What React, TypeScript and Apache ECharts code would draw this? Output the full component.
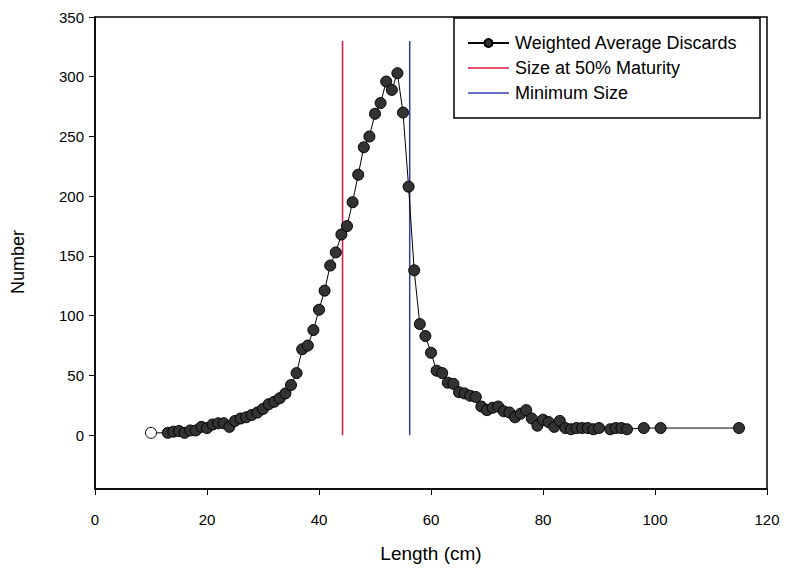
import React, { useEffect, useRef } from "react";
import * as echarts from "echarts";

// Length classes (cm) and weighted average number discarded
const lengths = [
  10, 13, 14, 15, 16, 17, 18, 19, 20, 21, 22, 23, 24, 25, 26, 27, 28, 29, 30,
  31, 32, 33, 34, 35, 36, 37, 38, 39, 40, 41, 42, 43, 44, 45, 46, 47, 48, 49,
  50, 51, 52, 53, 54, 55, 56, 57, 58, 59, 60, 61, 62, 63, 64, 65, 66, 67, 68,
  69, 70, 71, 72, 73, 74, 75, 76, 77, 78, 79, 80, 81, 82, 83, 84, 85, 86, 87,
  88, 89, 90, 92, 93, 94, 95, 98, 101, 115,
];
const discards = [
  2, 2, 3, 3.5, 2, 4, 4, 7, 6, 9, 10, 10, 7, 12, 14, 15, 17, 19, 22,
  26, 28, 31, 35, 42, 52, 72, 75, 88, 105, 121, 142, 153, 168, 175, 195, 218, 241, 250,
  269, 278, 296, 289, 303, 270, 208, 138, 93, 83, 69, 54, 52, 44, 43, 36, 35, 33, 32,
  24, 21, 23, 24, 20, 19, 15, 18, 21, 14, 8, 13, 11, 7, 12, 6, 5, 6, 6,
  6, 5, 6, 5, 6, 6, 5, 6, 6, 6,
];

// Reference lengths (cm)
const maturityLength = 44.2;
const minimumSize = 56.2;
const refLineSpan = [0, 330];

const xTicks = [0, 20, 40, 60, 80, 100, 120];
const yTicks = [0, 50, 100, 150, 200, 250, 300, 350];

const seriesNames = [
  "Weighted Average Discards",
  "Size at 50% Maturity",
  "Minimum Size",
];

const FONT = "'Liberation Sans', Arial, Helvetica, sans-serif";
const LINE_ICON = "path://M0 0H40V1.5H0Z";

export default function App() {
  const ref = useRef<HTMLDivElement>(null);

  useEffect(() => {
    if (!ref.current) return;
    const chart = echarts.init(ref.current, null, { renderer: "svg" });

    const points = lengths.map((l, i) => {
      const item: any = { value: [l, discards[i]] };
      if (i === 0) {
        item.itemStyle = { color: "#ffffff", borderColor: "#000", borderWidth: 1 };
      }
      return item;
    });

    chart.setOption({
      animation: false,
      backgroundColor: "#ffffff",
      textStyle: { fontFamily: FONT },
      grid: {
        left: 95,
        right: 24,
        top: 17,
        bottom: 85,
        show: true,
        borderColor: "#000",
        borderWidth: 1.5,
        backgroundColor: "transparent",
      },
      xAxis: {
        type: "value",
        min: 0,
        max: 120,
        interval: 20,
        axisLine: { onZero: false, lineStyle: { color: "#000", width: 1.5 } },
        axisTick: { inside: false, length: 6, lineStyle: { color: "#000" } },
        axisLabel: {
          customValues: xTicks,
          color: "#000",
          fontSize: 15,
          margin: 23,
          fontFamily: FONT,
        },
        splitLine: { show: false },
      },
      yAxis: {
        type: "value",
        min: -45,
        max: 350,
        axisLine: { show: true, lineStyle: { color: "#000", width: 1.5 } },
        axisTick: {
          show: true,
          customValues: yTicks,
          length: 6,
          lineStyle: { color: "#000" },
        },
        axisLabel: {
          customValues: yTicks,
          color: "#000",
          fontSize: 15,
          margin: 11,
          fontFamily: FONT,
        },
        splitLine: { show: false },
      },
      legend: {
        orient: "vertical",
        left: 467,
        top: 33,
        padding: 0,
        itemWidth: 41,
        itemHeight: 10,
        itemGap: 5,
        data: [
          { name: seriesNames[0] },
          { name: seriesNames[1], icon: LINE_ICON },
          { name: seriesNames[2], icon: LINE_ICON },
        ],
        textStyle: {
          color: "#000",
          fontSize: 18,
          lineHeight: 20,
          fontFamily: FONT,
          padding: [0, 0, 0, 1],
        },
      },
      graphic: [
        {
          type: "rect",
          shape: { x: 454, y: 18, width: 306, height: 100 },
          style: { fill: "none", stroke: "#000", lineWidth: 1.5 },
          z: 10,
        },
        {
          type: "text",
          x: 431,
          y: 553,
          style: {
            text: "Length (cm)",
            fontSize: 19,
            fontFamily: FONT,
            fill: "#000",
            align: "center",
            verticalAlign: "middle",
          },
        },
        {
          type: "text",
          x: 18,
          y: 262,
          rotation: Math.PI / 2,
          style: {
            text: "Number",
            fontSize: 18,
            fontFamily: FONT,
            fill: "#000",
            align: "center",
            verticalAlign: "middle",
          },
        },
      ],
      series: [
        {
          name: seriesNames[0],
          type: "line",
          data: points,
          symbol: "circle",
          symbolSize: 11,
          showAllSymbol: true,
          lineStyle: { color: "#000", width: 1 },
          itemStyle: { color: "#333333", borderColor: "#000", borderWidth: 1 },
          z: 5,
        },
        {
          name: seriesNames[1],
          type: "line",
          symbol: "none",
          data: refLineSpan.map((v) => [maturityLength, v]),
          lineStyle: { color: "#e3173f", width: 1.5 },
          itemStyle: { color: "#e3173f" },
          z: 3,
        },
        {
          name: seriesNames[2],
          type: "line",
          symbol: "none",
          data: refLineSpan.map((v) => [minimumSize, v]),
          lineStyle: { color: "#2f3fb8", width: 1.5 },
          itemStyle: { color: "#2f3fb8" },
          z: 3,
        },
      ],
    });

    return () => chart.dispose();
  }, []);

  return (
    <div
      ref={ref}
      style={{ position: "absolute", left: 0, top: 0, width: 791, height: 574 }}
    />
  );
}
